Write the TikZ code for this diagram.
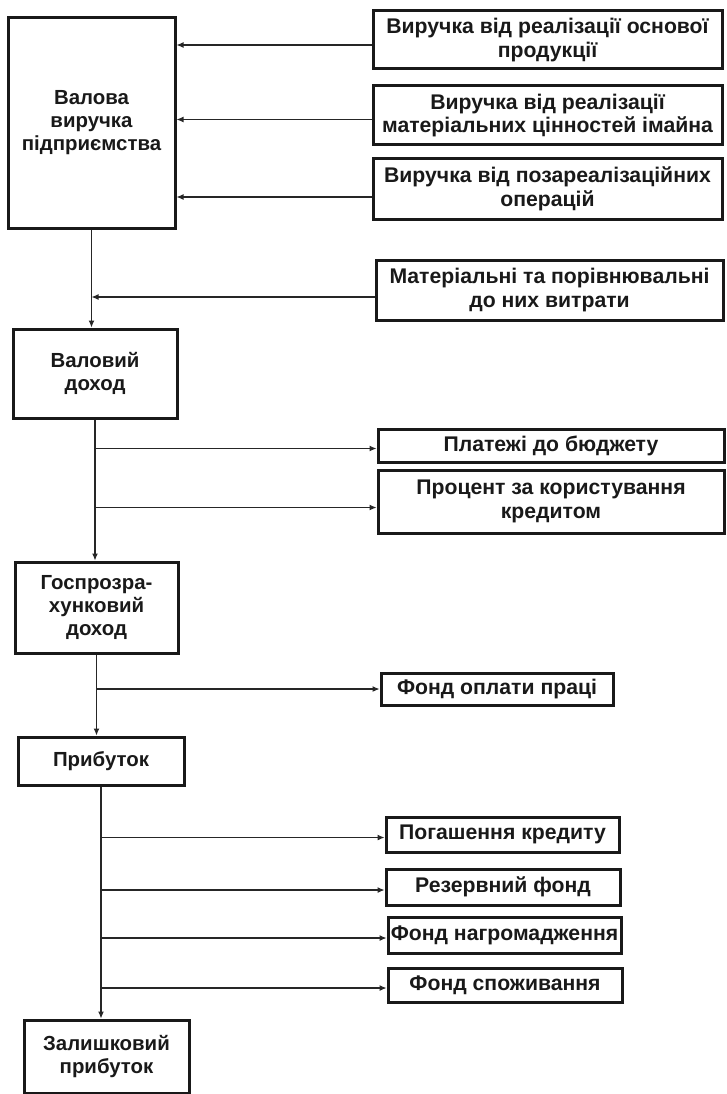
\documentclass[tikz,border=0pt]{standalone}
\usepackage{fontspec}
\setmainfont{Liberation Sans}
\usetikzlibrary{arrows.meta}
\begin{document}
\begin{tikzpicture}[x=1pt,y=-1pt,
  box/.style={draw=black!90, text=black!90, line width=3pt, align=center, inner sep=0pt,
    font=\fontsize{21.2}{23.5}\selectfont\bfseries},
  lbox/.style={box, font=\fontsize{20.4}{23}\selectfont\bfseries},
  arr/.style={draw=black!85, line width=1.1pt, -{Latex[length=7pt,width=6pt]}}]
\useasboundingbox (0,0) rectangle (726,1094);

% left column: the chain of income figures
\node[lbox, minimum width=167pt, minimum height=210pt] (L1) at (91.5,123) {Валова\\виручка\\підприємства};
\node[lbox, minimum width=164pt, minimum height=89pt] (L2) at (95,373.5) {Валовий\\доход};
\node[lbox, minimum width=163pt, minimum height=91pt] (L3) at (96.5,607.5) {Госпрозра-\\хунковий\\доход};
\node[lbox, minimum width=166pt, minimum height=48pt] (L4) at (101,761) {Прибуток};
\node[lbox, minimum width=165pt, minimum height=73pt] (L5) at (106.5,1056.5) {Залишковий\\прибуток};

% right column: sources and deductions
\node[box, minimum width=349pt, minimum height=58pt] (R1) at (547.5,40) {Виручка від реалізації основої\\продукції};
\node[box, minimum width=349pt, minimum height=59pt] (R2) at (547.5,115.5) {Виручка від реалізації\\матеріальних цінностей імайна};
\node[box, minimum width=349pt, minimum height=60pt] (R3) at (547.5,189) {Виручка від позареалізаційних\\операцій};
\node[box, minimum width=347pt, minimum height=60pt] (R4) at (549.5,290) {Матеріальні та порівнювальні\\до них витрати};
\node[box, minimum width=346pt, minimum height=33pt] (R5) at (551,445.5) {Платежі до бюджету};
\node[box, minimum width=346pt, minimum height=63pt] (R6) at (551,501.5) {Процент за користування\\кредитом};
\node[box, minimum width=232pt, minimum height=32pt] (R7) at (497,689) {Фонд оплати праці};
\node[box, minimum width=233pt, minimum height=35pt] (R8) at (502.5,834.5) {Погашення кредиту};
\node[box, minimum width=234pt, minimum height=36pt] (R9) at (503,887) {Резервний фонд};
\node[box, minimum width=233pt, minimum height=36pt] (R10) at (504.5,935) {Фонд нагромадження};
\node[box, minimum width=234pt, minimum height=34pt] (R11) at (505,985) {Фонд споживання};

% connector levels
\coordinate (c1) at ([yshift=-5pt]R1.west);
\coordinate (c2) at ([yshift=-4pt]R2.west);
\coordinate (c3) at ([yshift=-8pt]R3.west);
\coordinate (c4) at ([yshift=-7pt]R4.west);
\coordinate (c5) at ([yshift=-3pt]R5.west);
\coordinate (c6) at ([yshift=-6pt]R6.west);
\coordinate (c7) at (R7.west);
\coordinate (c8) at ([yshift=-3pt]R8.west);
\coordinate (c9) at ([yshift=-3pt]R9.west);
\coordinate (c10) at ([yshift=-3pt]R10.west);
\coordinate (c11) at ([yshift=-3pt]R11.west);

% revenues flowing into gross revenue
\draw[arr] (c1) -- (c1 -| L1.east);
\draw[arr] (c2) -- (c2 -| L1.east);
\draw[arr] (c3) -- (c3 -| L1.east);

% main trunk
\draw[arr] (L1.south) -- (L1.south |- L2.north);
\draw[arr] (c4) -- (c4 -| L1.south);
\draw[arr] (L2.south) -- (L2.south |- L3.north);
\draw[arr] (c5 -| L2.south) -- (c5);
\draw[arr] (c6 -| L2.south) -- (c6);
\draw[arr] (L3.south) -- (L3.south |- L4.north);
\draw[arr] (c7 -| L3.south) -- (c7);
\draw[arr] (L4.south) -- (L4.south |- L5.north);
\draw[arr] (c8 -| L4.south) -- (c8);
\draw[arr] (c9 -| L4.south) -- (c9);
\draw[arr] (c10 -| L4.south) -- (c10);
\draw[arr] (c11 -| L4.south) -- (c11);
\end{tikzpicture}
\end{document}
